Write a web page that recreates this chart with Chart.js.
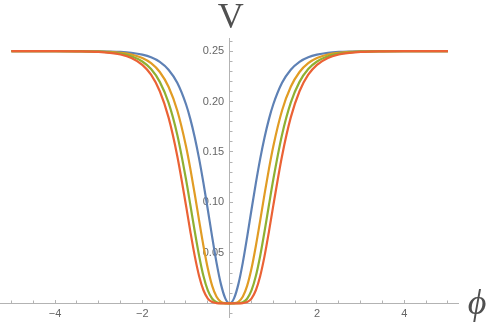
<!DOCTYPE html>
<html>
<head>
<meta charset="utf-8">
<script src="https://cdn.jsdelivr.net/npm/chart.js@4.4.1/dist/chart.umd.min.js"></script>
<style>
  html, body { margin: 0; padding: 0; background: #fff; }
  #wrap { width: 491px; height: 327px; }
</style>
</head>
<body>
<div id="wrap"><canvas id="chart" width="491" height="327"></canvas></div>
<script>
// values
const phi = [-5, -4.5, -4, -3.5, -3, -2.75, -2.5, -2.25, -2, -1.8, -1.6, -1.4, -1.2, -1, -0.9, -0.8, -0.7, -0.6, -0.5, -0.4, -0.3, -0.2, -0.1,
  0, 0.1, 0.2, 0.3, 0.4, 0.5, 0.6, 0.7, 0.8, 0.9, 1, 1.2, 1.4, 1.6, 1.8, 2, 2.25, 2.5, 2.75, 3, 3.5, 4, 4.5, 5];

const vBlue = [0.2500, 0.2500, 0.2500, 0.2499, 0.2498, 0.2496, 0.2492, 0.2483, 0.2465, 0.2439, 0.2394, 0.2316, 0.2186, 0.1973, 0.1826, 0.1646, 0.1434, 0.1191, 0.0927, 0.0656, 0.0401, 0.0190, 0.0049,
  0, 0.0049, 0.0190, 0.0401, 0.0656, 0.0927, 0.1191, 0.1434, 0.1646, 0.1826, 0.1973, 0.2186, 0.2316, 0.2394, 0.2439, 0.2465, 0.2483, 0.2492, 0.2496, 0.2498, 0.2499, 0.2500, 0.2500, 0.2500];

const vOrange = [0.2500, 0.2500, 0.2500, 0.2499, 0.2496, 0.2492, 0.2483, 0.2466, 0.2431, 0.2380, 0.2293, 0.2146, 0.1911, 0.1557, 0.1333, 0.1084, 0.0822, 0.0568, 0.0344, 0.0172, 0.0064, 0.0014, 0.0001,
  0, 0.0001, 0.0014, 0.0064, 0.0172, 0.0344, 0.0568, 0.0822, 0.1084, 0.1333, 0.1557, 0.1911, 0.2146, 0.2293, 0.2380, 0.2431, 0.2466, 0.2483, 0.2492, 0.2496, 0.2499, 0.2500, 0.2500, 0.2500];

const vGreen = [0.2500, 0.2500, 0.2500, 0.2498, 0.2494, 0.2487, 0.2475, 0.2449, 0.2397, 0.2322, 0.2195, 0.1989, 0.1671, 0.1229, 0.0974, 0.0714, 0.0472, 0.0270, 0.0127, 0.0045, 0.0010, 0.0001, 0.0000,
  0, 0.0000, 0.0001, 0.0010, 0.0045, 0.0127, 0.0270, 0.0472, 0.0714, 0.0974, 0.1229, 0.1671, 0.1989, 0.2195, 0.2322, 0.2397, 0.2449, 0.2475, 0.2487, 0.2494, 0.2498, 0.2500, 0.2500, 0.2500];

const vRed = [0.2500, 0.2500, 0.2500, 0.2498, 0.2492, 0.2483, 0.2466, 0.2432, 0.2364, 0.2266, 0.2102, 0.1843, 0.1461, 0.0970, 0.0711, 0.0470, 0.0271, 0.0129, 0.0047, 0.0012, 0.0002, 0.0000, 0.0000,
  0, 0.0000, 0.0000, 0.0002, 0.0012, 0.0047, 0.0129, 0.0271, 0.0470, 0.0711, 0.0970, 0.1461, 0.1843, 0.2102, 0.2266, 0.2364, 0.2432, 0.2466, 0.2483, 0.2492, 0.2498, 0.2500, 0.2500, 0.2500];

const seriesColors = ["#5e81b5", "#e19c24", "#8fb032", "#eb6235"];

const xMajorTicks = [-4, -2, 2, 4];
const xMinorTicks = [-5, -4.5, -3.5, -3, -2.5, -1.5, -1, -0.5, 0.5, 1, 1.5, 2.5, 3, 3.5, 4.5, 5];
const yMajorTicks = [0.05, 0.10, 0.15, 0.20, 0.25];
const yMinorTicks = [-0.01, 0.01, 0.02, 0.03, 0.04, 0.06, 0.07, 0.08, 0.09, 0.11, 0.12, 0.13, 0.14,
  0.16, 0.17, 0.18, 0.19, 0.21, 0.22, 0.23, 0.24, 0.26];

const xTitle = "\u03d5";
const yTitle = "V";

const axisGray = "#b3b3b3";
const labelGray = "#666";
const tickFont = { family: "'Liberation Sans', Arial, sans-serif", size: 11 };

function toPoints(vals) {
  return phi.map((x, i) => ({ x: x, y: vals[i] }));
}

// later series are drawn on top, as in the reference
function makeSet(vals, color, order) {
  return {
    data: toPoints(vals),
    order: order,
    borderColor: color,
    borderWidth: 2.2,
    pointRadius: 0,
    fill: false,
    cubicInterpolationMode: "monotone",
    borderJoinStyle: "round"
  };
}

const axisNames = {
  id: "axisNames",
  afterDraw(chart) {
    const ctx = chart.ctx;
    const x = chart.scales.x, y = chart.scales.y;
    ctx.save();
    ctx.fillStyle = "#505050";
    ctx.textAlign = "center";
    ctx.textBaseline = "alphabetic";
    ctx.font = "36px 'Liberation Serif', 'DejaVu Serif', serif";
    ctx.fillText(yTitle, x.getPixelForValue(0) + 1, y.top - 10);
    ctx.font = "italic 36px 'Liberation Serif', 'DejaVu Serif', serif";
    ctx.fillText(xTitle, x.right + 19, y.getPixelForValue(0) + 11);
    ctx.restore();
  }
};

function noWidth(s) { s.width = 0; }
function noHeight(s) { s.height = 0; }

new Chart(document.getElementById("chart"), {
  type: "line",
  data: {
    datasets: [
      makeSet(vBlue, seriesColors[0], 4),
      makeSet(vOrange, seriesColors[1], 3),
      makeSet(vGreen, seriesColors[2], 2),
      makeSet(vRed, seriesColors[3], 1)
    ]
  },
  options: {
    responsive: false,
    devicePixelRatio: 1,
    animation: false,
    layout: { padding: { left: 0, right: 33, top: 38, bottom: 7 } },
    plugins: { legend: { display: false }, tooltip: { enabled: false } },
    scales: {
      x: {
        type: "linear", axis: "x", min: -5.26, max: 5.23,
        position: { y: 0 },
        afterFit: noHeight,
        afterBuildTicks: s => { s.ticks = xMajorTicks.map(v => ({ value: v })); },
        grid: { drawOnChartArea: false, tickLength: -4, tickColor: axisGray },
        border: { color: axisGray },
        ticks: {
          padding: 8, color: labelGray, font: tickFont, autoSkip: false, maxRotation: 0,
          callback: v => (v < 0 ? "\u2212" + Math.abs(v) : String(v))
        }
      },
      xMinor: {
        type: "linear", axis: "x", min: -5.26, max: 5.23,
        position: { y: 0 },
        afterFit: noHeight,
        afterBuildTicks: s => { s.ticks = xMinorTicks.map(v => ({ value: v })); },
        grid: { drawOnChartArea: false, tickLength: -2.5, tickColor: axisGray },
        border: { display: false },
        ticks: { display: false }
      },
      y: {
        type: "linear", axis: "y", min: -0.014, max: 0.263,
        position: { x: 0 },
        afterFit: noWidth,
        afterBuildTicks: s => { s.ticks = yMajorTicks.map(v => ({ value: v })); },
        grid: { drawOnChartArea: false, tickLength: -4, tickColor: axisGray },
        border: { color: axisGray },
        ticks: {
          color: labelGray, font: tickFont, autoSkip: false,
          callback: v => v.toFixed(2) + "\u2002"
        }
      },
      yMinor: {
        type: "linear", axis: "y", min: -0.014, max: 0.263,
        position: { x: 0 },
        afterFit: noWidth,
        afterBuildTicks: s => { s.ticks = yMinorTicks.map(v => ({ value: v })); },
        grid: { drawOnChartArea: false, tickLength: -2.5, tickColor: axisGray },
        border: { display: false },
        ticks: { display: false }
      }
    }
  },
  plugins: [axisNames]
});
</script>
</body>
</html>
